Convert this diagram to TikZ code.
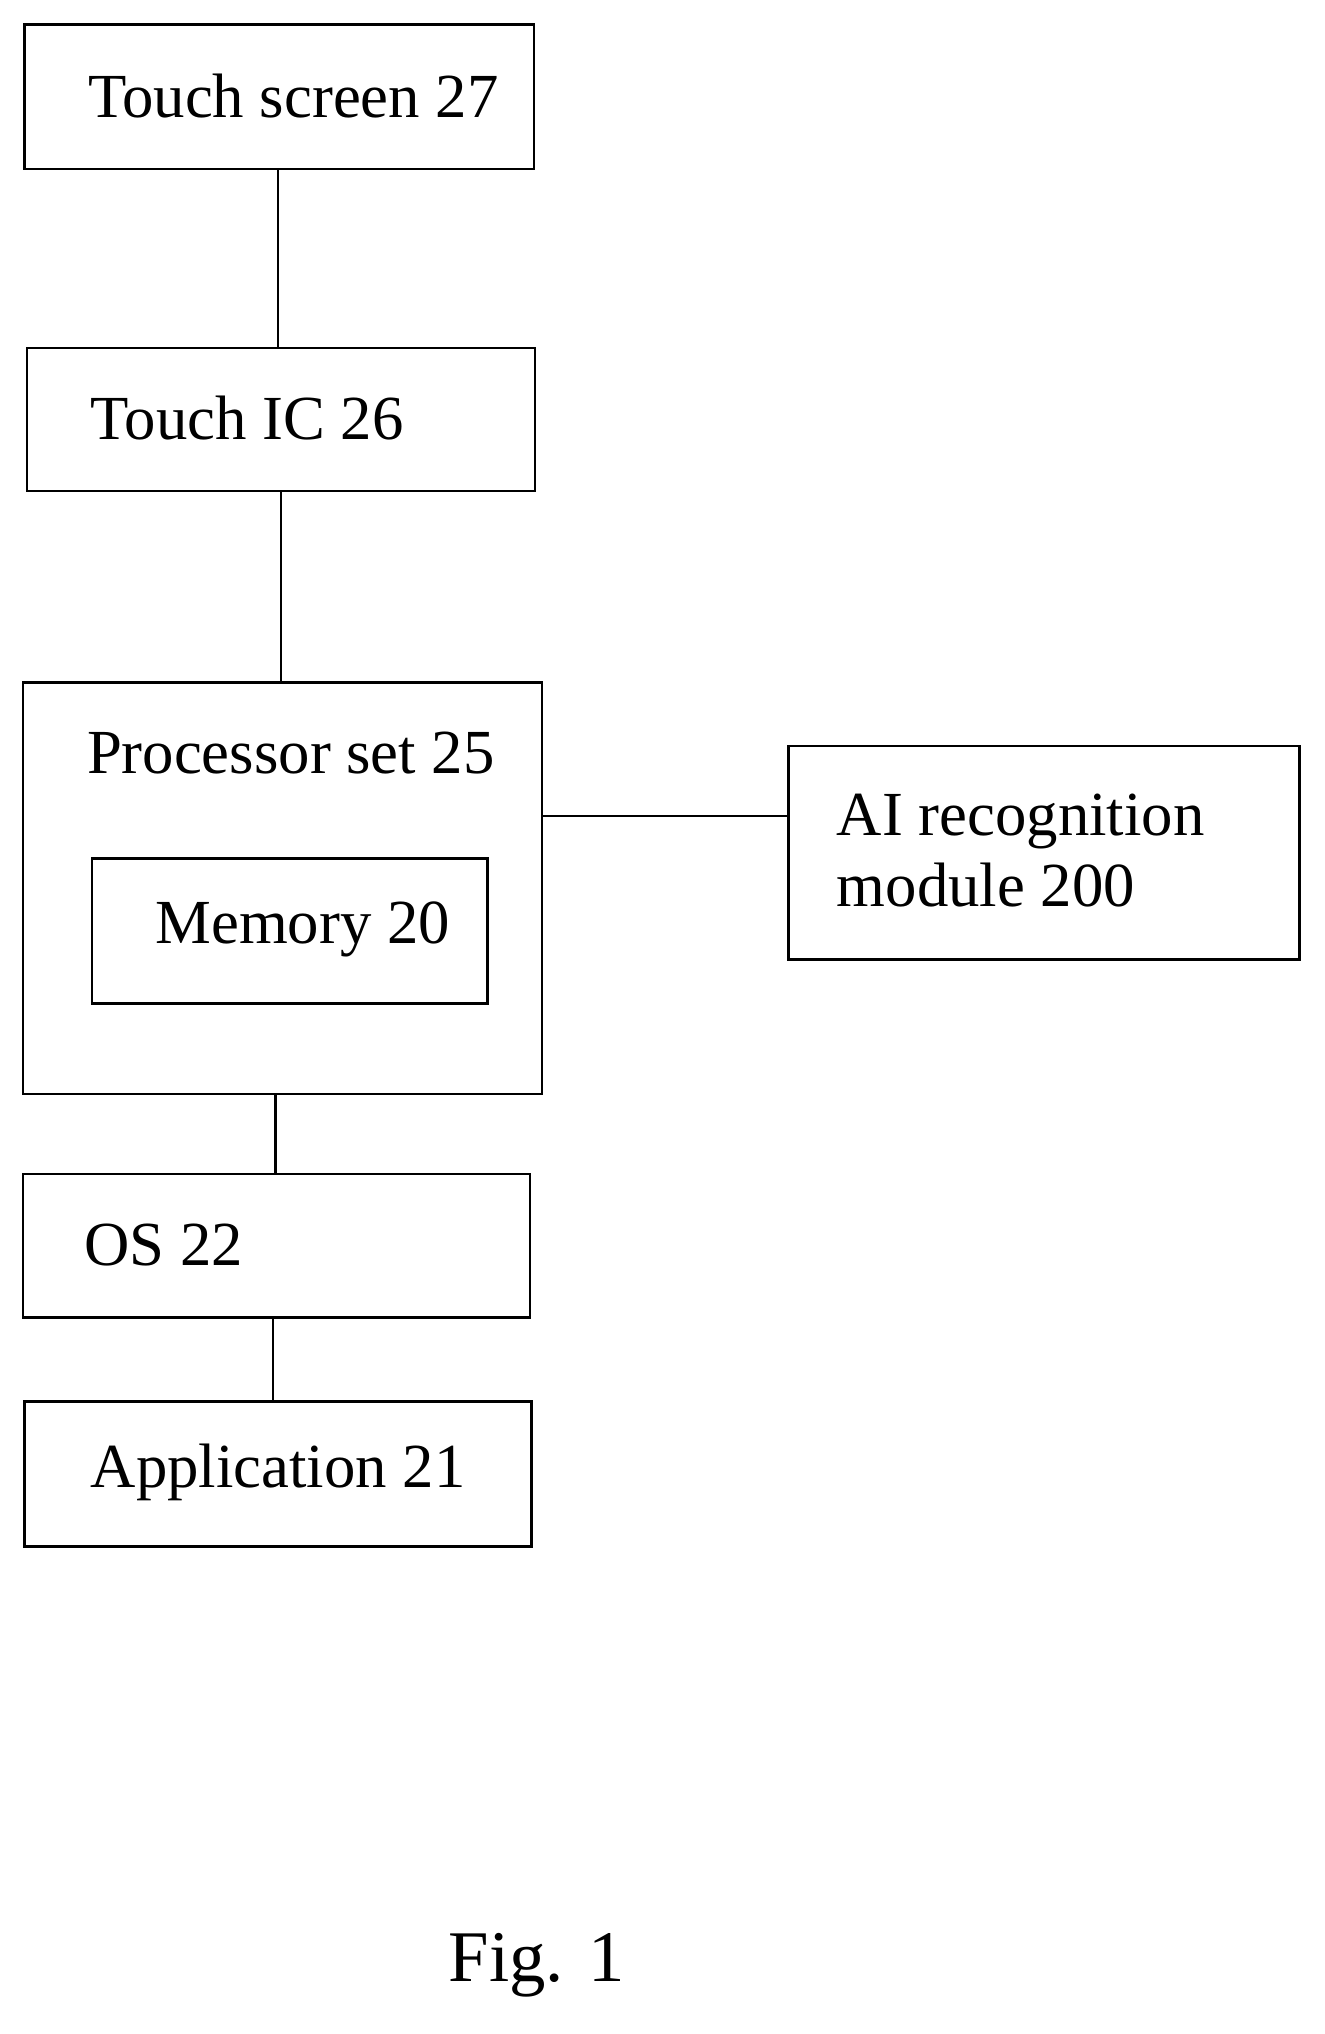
\documentclass[tikz,border=0pt]{standalone}
\usepackage{fontspec}
\setmainfont{Liberation Serif}
\begin{document}
\begin{tikzpicture}[x=0.025cm,y=-0.025cm,
  box/.style={draw,line width=1.3pt,anchor=north west,inner sep=0pt},
  lbl/.style={anchor=west,inner sep=0pt,font=\fontsize{34.5}{39}\selectfont},
  conn/.style={line width=1.2pt}]
\useasboundingbox (0,0) rectangle (1024,1573);
\node[box,minimum width=394*0.025cm,minimum height=112*0.025cm] (ts) at (18,18) {};
\node[box,minimum width=393*0.025cm,minimum height=111*0.025cm] (tic) at (20,268) {};
\node[box,minimum width=401*0.025cm,minimum height=318*0.025cm] (ps) at (17,527) {};
\node[box,minimum width=306*0.025cm,minimum height=112*0.025cm] (mem) at (70,663) {};
\node[box,minimum width=395*0.025cm,minimum height=165*0.025cm] (ai) at (609,576) {};
\node[box,minimum width=392*0.025cm,minimum height=111*0.025cm] (os) at (17,907) {};
\node[box,minimum width=392*0.025cm,minimum height=112*0.025cm] (app) at (18,1083) {};
\node[lbl] (tst) at (68,74) {Touch screen 27};
\node[lbl] (tict) at (70,323) {Touch IC 26};
\node[lbl] (pst) at (67,582) {Processor set 25};
\node[lbl] (memt) at (120,719) {Memory 20};
\node[lbl,align=left] (ait) at (647,658) {AI recognition\\module 200};
\node[lbl] (ost) at (65,963) {OS 22};
\node[lbl] (appt) at (70,1139) {Application 21};
\node[inner sep=0pt,font=\fontsize{40}{44}\selectfont] (fig) at (415,1520) {Fig. 1};
\draw[conn] (ts.south -| 215,0) -- (tic.north -| 215,0);
\draw[conn] (tic.south -| 217,0) -- (ps.north -| 217,0);
\draw[conn] (ps.south -| 213,0) -- (os.north -| 213,0);
\draw[conn] (os.south -| 211,0) -- (app.north -| 211,0);
\draw[conn] (ps.east |- 0,631) -- (ai.west |- 0,631);
\end{tikzpicture}
\end{document}
